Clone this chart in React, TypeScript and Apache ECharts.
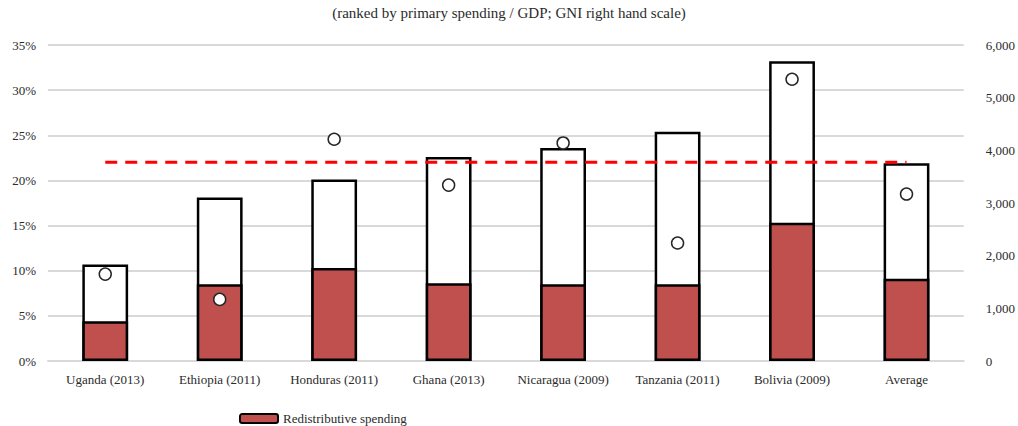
import React, { useEffect, useRef } from "react";
import * as echarts from "echarts";

const categories = [
  "Uganda (2013)",
  "Ethiopia (2011)",
  "Honduras (2011)",
  "Ghana (2013)",
  "Nicaragua (2009)",
  "Tanzania (2011)",
  "Bolivia (2009)",
  "Average",
];
const redistributive = [4.4, 8.5, 10.3, 8.6, 8.5, 8.5, 15.3, 9.1];
const primaryTotal = [10.7, 18.1, 20.1, 22.6, 23.6, 25.4, 33.2, 21.9];
const gni = [1650, 1170, 4210, 3340, 4140, 2240, 5350, 3170];
const averageLine = categories.map(() => 22.0);

const FONT = "'Liberation Serif', 'DejaVu Serif', serif";
const TXT = "#2b2b2b";

export default function App() {
  const ref = useRef<HTMLDivElement>(null);
  useEffect(() => {
    if (!ref.current) return;
    const chart = echarts.init(ref.current, null, { renderer: "svg" });
    chart.setOption({
      animation: false,
      textStyle: { fontFamily: FONT },
      title: {
        text: "(ranked by primary spending / GDP; GNI right hand scale)",
        left: "center",
        top: 0,
        textStyle: { fontFamily: FONT, fontSize: 15, fontWeight: "normal", color: TXT },
      },
      legend: {
        data: ["Redistributive spending"],
        left: 234,
        top: 407,
        itemWidth: 38,
        itemHeight: 9,
        itemGap: 6,
        textStyle: { fontFamily: FONT, fontSize: 13, color: TXT },
      },
      grid: { left: 48, right: 50, top: 45, bottom: 65, containLabel: false },
      xAxis: {
        type: "category",
        data: categories,
        axisTick: { show: false },
        axisLine: { lineStyle: { color: "#d9d9d9", width: 2 } },
        axisLabel: { interval: 0, fontFamily: FONT, fontSize: 13, color: TXT, margin: 12 },
      },
      yAxis: [
        {
          type: "value",
          min: 0,
          max: 35,
          interval: 5,
          axisLabel: { formatter: "{value}%", fontFamily: FONT, fontSize: 13, color: TXT, margin: 12 },
          splitLine: { lineStyle: { color: "#d9d9d9", width: 2 } },
          axisLine: { show: false },
          axisTick: { show: false },
        },
        {
          type: "value",
          min: 0,
          max: 6000,
          interval: 1000,
          axisLabel: {
            formatter: (v: number) => v.toLocaleString("en-US"),
            fontFamily: FONT,
            fontSize: 13,
            color: TXT,
            margin: 22,
          },
          splitLine: { show: false },
          axisLine: { show: false },
          axisTick: { show: false },
        },
      ],
      series: [
        {
          name: "Primary spending",
          type: "bar",
          data: primaryTotal,
          barWidth: "40%",
          barGap: "-100%",
          itemStyle: { color: "#ffffff", borderColor: "#000", borderWidth: 2.5 },
          z: 2,
        },
        {
          name: "Redistributive spending",
          type: "bar",
          data: redistributive,
          barWidth: "40%",
          barGap: "-100%",
          itemStyle: { color: "#c0504d", borderColor: "#000", borderWidth: 2.5 },
          z: 3,
        },
        {
          name: "Average",
          type: "line",
          data: averageLine,
          symbol: "none",
          lineStyle: { color: "#ff0000", width: 3, type: [12, 8] },
          z: 5,
        },
        {
          name: "GNI",
          type: "scatter",
          yAxisIndex: 1,
          data: gni,
          symbol: "circle",
          symbolSize: 12,
          itemStyle: { color: "#ffffff", borderColor: "#262626", borderWidth: 1.5, opacity: 1 },
          z: 6,
        },
      ],
    });
    return () => chart.dispose();
  }, []);
  return <div ref={ref} style={{ width: 1018, height: 426, position: "absolute", left: 0, top: 0 }} />;
}
